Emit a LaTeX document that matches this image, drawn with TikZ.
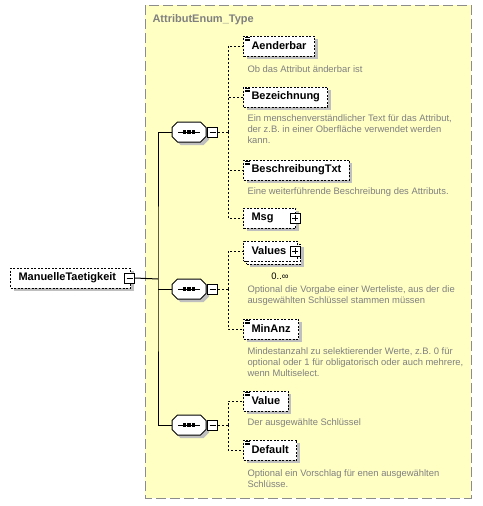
\documentclass[tikz,border=0pt]{standalone}
\usepackage{fontspec}
\setmainfont{Liberation Sans}
\usetikzlibrary{shadows}

\definecolor{schemayellow}{RGB}{255,255,196}
\definecolor{descgray}{RGB}{128,128,128}
\definecolor{framegray}{RGB}{140,140,140}

% octagonal sequence compositor round a named node
\newcommand\seqframe[1]{%
  \draw[fill=white,shade] ([xshift=5.5pt]#1.north west) -- ([xshift=-5.5pt]#1.north east)
    -- ([yshift=-5.5pt]#1.north east) -- ([yshift=5.5pt]#1.south east)
    -- ([xshift=-5.5pt]#1.south east) -- ([xshift=5.5pt]#1.south west)
    -- ([yshift=5.5pt]#1.south west) -- ([yshift=-5.5pt]#1.north west) -- cycle;
  \draw ([xshift=6pt]#1.west) -- ([xshift=-6pt]#1.east);
  \foreach \dx in {-4.5,0,4.5}
    \fill ([xshift=\dx pt]#1.center) +(-1.6,-1.6) rectangle +(1.6,1.6);}

\begin{document}
\begin{tikzpicture}[x=1pt,y=-1pt,line width=1pt,
  shade/.style={drop shadow={shadow xshift=3pt,shadow yshift=-3pt,fill=black!25,opacity=1}},
  box/.style={draw,dash pattern=on 2pt off 1.5pt,fill=white,anchor=west,inner xsep=8pt,inner ysep=0pt,
    minimum height=20pt,font=\bfseries\fontsize{11}{12}\selectfont},
  elem/.style={box,shade},
  simple/.style={elem,path picture={
    \foreach \d in {1.5,3,4.5}
      \draw[solid,line width=0.8pt] ([shift={(1.5pt,-\d pt)}]path picture bounding box.north west) -- ++(5,0);}},
  desc/.style={anchor=north west,align=left,inner sep=0pt,text=descgray,font=\fontsize{9.4}{11.3}\selectfont},
  btn/.style={draw,solid,fill=white,minimum size=10pt,inner sep=0pt},
  minusbtn/.style={btn,path picture={
    \draw[solid] ([xshift=2pt]path picture bounding box.west) -- ([xshift=-2pt]path picture bounding box.east);}},
  plusbtn/.style={btn,path picture={
    \draw[solid] ([xshift=2pt]path picture bounding box.west) -- ([xshift=-2pt]path picture bounding box.east);
    \draw[solid] ([yshift=-2pt]path picture bounding box.north) -- ([yshift=2pt]path picture bounding box.south);}},
  seq/.style={minimum width=33pt,minimum height=19pt,inner sep=0pt},
  con/.style={dash pattern=on 2pt off 2pt}
]

  \useasboundingbox (0,0) rectangle (482,506);

  % the complex type frame
  \draw[framegray,fill=schemayellow,dash pattern=on 10pt off 4pt] (145,5) rectangle (471,498);
  \node[anchor=base west,inner sep=0pt,text=descgray,font=\bfseries\fontsize{11}{12}\selectfont] (ttl) at (152,22) {AttributEnum\_Type};

  % root element
  \node[elem,text width=104pt,align=left] (mt) at (10,278) {ManuelleTaetigkeit};
  \node[minusbtn] (mtb) at ([xshift=-1.5pt]mt.east) {};
  \coordinate (bus) at (158,279);

  % sequences
  \node[seq] (s1) at (189,132) {};
  \seqframe{s1}
  \node[minusbtn] (s1b) at (212.5,132) {};
  \node[seq] (s2) at (189,289) {};
  \seqframe{s2}
  \node[minusbtn] (s2b) at (212.5,289) {};
  \node[seq] (s3) at (189,425) {};
  \seqframe{s3}
  \node[minusbtn] (s3b) at (212.5,425) {};

  % first sequence
  \node[simple] (aend) at (243,46) {Aenderbar};
  \node[desc] (aendd) at (247,65) {Ob das Attribut änderbar ist};
  \node[simple] (bez) at (243,97) {Bezeichnung};
  \node[desc] (bezd) at (247,114) {Ein menschenverständlicher Text für das Attribut,\\der z.B. in einer Oberfläche verwendet werden\\kann.};
  \node[simple] (bes) at (243,170) {BeschreibungTxt};
  \node[desc] (besd) at (247,187) {Eine weiterführende Beschreibung des Attributs.};
  \node[elem,text width=36pt,align=left] (msg) at (243,218) {Msg};
  \node[plusbtn] (msgb) at ([xshift=-1pt]msg.east) {};

  % second sequence
  \node[elem,text width=38pt,align=left] (valsbk) at (246,254) {};
  \node[box,text width=38pt,align=left] (vals) at (243,251) {Values};
  \node[plusbtn] (valsb) at ([xshift=-3pt]vals.east) {};
  \node[inner sep=0pt,font=\fontsize{9.4}{11.3}\selectfont] (valso) at (280,276) {0..∞};
  \node[desc] (valsd) at (247,285) {Optional die Vorgabe einer Werteliste, aus der die\\ausgewählten Schlüssel stammen müssen};
  \node[simple] (min) at (243,329) {MinAnz};
  \node[desc] (mind) at (247,347) {Mindestanzahl zu selektierender Werte, z.B. 0 für\\optional oder 1 für obligatorisch oder auch mehrere,\\wenn Multiselect.};

  % third sequence
  \node[simple] (val) at (243,401) {Value};
  \node[desc] (vald) at (247,418) {Der ausgewählte Schlüssel};
  \node[simple] (def) at (243,450) {Default};
  \node[desc] (defd) at (247,469) {Optional ein Vorschlag für enen ausgewählten\\Schlüsse.};

  % connectors
  \draw (mtb.east) -- (bus);
  \draw (s1.west) -| (bus) |- (s3.west);
  \draw (bus |- s2.west) -- (s2.west);

  \draw[con] (s1b.east) -- ++(10,0) coordinate (c1);
  \foreach \n in {aend,bez,bes,msg}
    \draw[con] (c1) |- (\n.west);
  \draw[con] (s2b.east) -- ++(10,0) coordinate (c2);
  \foreach \n in {vals,min}
    \draw[con] (c2) |- (\n.west);
  \draw[con] (s3b.east) -- ++(10,0) coordinate (c3);
  \foreach \n in {val,def}
    \draw[con] (c3) |- (\n.west);

\end{tikzpicture}
\end{document}
